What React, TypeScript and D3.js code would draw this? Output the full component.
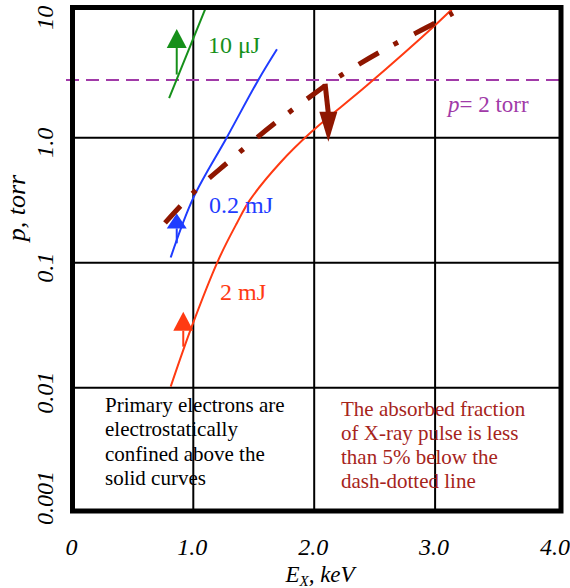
import React from "react";
import * as d3 from "d3";

// photon energy (keV) vs pressure (torr)
const E_TICKS = [0, 1, 2, 3, 4];
const E_TICK_LABELS = ["0", "1.0", "2.0", "3.0", "4.0"];
const P_TICKS = [0.001, 0.01, 0.1, 1, 10];
const P_TICK_LABELS = ["0.001", "0.01", "0.1", "1.0", "10"];
const E_GRID = [1, 2, 3];
const P_GRID = [0.01, 0.1, 1];

// solid confinement curves [E, p]
const curve10uJ = [[0.8, 2.07], [1.1, 10.8]];
const curve02mJ = [[0.813, 0.11], [1.0, 0.33], [1.276, 1.0], [1.538, 2.9], [1.692, 5.1]];
const curve2mJ = [[0.813, 0.0102], [0.987, 0.0308], [1.207, 0.105], [1.359, 0.206], [1.469, 0.318], [1.717, 0.628], [1.98, 1.12], [2.43, 2.59], [3.0, 7.95], [3.15, 10.9]];

// absorption 5% dash-dotted line, split at the kink
const absorbLow = [[0.766, 0.208], [1.006, 0.368], [1.279, 0.628], [1.676, 1.31], [2.09, 2.6]];
const absorbHigh = [[2.09, 2.6], [2.238, 3.23], [2.544, 4.85], [3.016, 8.43], [3.148, 9.95]];

// arrows [E, tail p, tip p]
const arrow10uJ = [0.863, 3.2, 7.4];
const arrow02mJ = [0.863, 0.143, 0.248];
const arrow2mJ = [0.917, 0.0213, 0.0405];
const arrowAbsorb = [2.09, 2.6, 2.117, 0.93];

const P_LEVEL = 2.9;

const noteBlack = ["Primary electrons are", "electrostatically", "confined above the", "solid curves"];
const noteRed = ["The absorbed fraction", "of X-ray pulse is less", "than 5% below the", "dash-dotted line"];

const GREEN = "#16901a";
const BLUE = "#1f3cff";
const RED = "#ff3a12";
const DARKRED = "#8e1600";
const PURPLE = "#a13aa8";
const NOTE_RED = "#a6241b";

const width = 570;
const height = 588;

const x = d3.scaleLinear().domain([0, 4]).range([72.4, 556]);
const y = d3.scaleLog().domain([0.001, 10]).range([512.7, 12.7]);

const frame = { x: 72.5, y: 7.5, w: 488.5, h: 503.5 };

const line = d3
  .line<number[]>()
  .x((d) => x(d[0]))
  .y((d) => y(d[1]))
  .curve(d3.curveCatmullRom.alpha(0.5));

function UpArrow({ a, color, head }: { a: number[]; color: string; head: number }) {
  const cx = x(a[0]);
  const tail = y(a[1]);
  const tip = y(a[2]);
  const base = tip + head;
  return (
    <g>
      <line x1={cx} x2={cx} y1={tail} y2={base} stroke={color} strokeWidth={2} />
      <polygon points={`${cx},${tip} ${cx - 10},${base} ${cx + 10},${base}`} fill={color} />
    </g>
  );
}

export default function App() {
  const [ax0, ap0, ax1, ap1] = arrowAbsorb;
  const kx = x(ax0);
  const ky = y(ap0);
  const tx = x(ax1);
  const ty = y(ap1);
  const headBase = ty - 30;

  return (
    <svg
      width={width}
      height={height}
      style={{ position: "absolute", left: 0, top: 0, background: "#fff" }}
    >
      <style>{`text { font-family: "Liberation Serif", "DejaVu Serif", serif; }`}</style>
      <defs>
        <clipPath id="plot">
          <rect x={frame.x} y={frame.y} width={frame.w} height={frame.h} />
        </clipPath>
      </defs>

      {/* grid */}
      {E_GRID.map((e) => (
        <line key={"ve" + e} x1={x(e)} x2={x(e)} y1={frame.y} y2={frame.y + frame.h} stroke="#000" strokeWidth={2} />
      ))}
      {P_GRID.map((p) => (
        <line key={"hp" + p} x1={frame.x} x2={frame.x + frame.w} y1={y(p)} y2={y(p)} stroke="#000" strokeWidth={2} />
      ))}

      {/* p = const line */}
      <line x1={66} x2={frame.x + frame.w} y1={y(P_LEVEL)} y2={y(P_LEVEL)} stroke={PURPLE} strokeWidth={2} strokeDasharray="13 7" />

      <g clipPath="url(#plot)" fill="none">
        <path d={line(curve10uJ as any) || ""} stroke={GREEN} strokeWidth={2} />
        <path d={line(curve02mJ as any) || ""} stroke={BLUE} strokeWidth={2} />
        <path d={line(curve2mJ as any) || ""} stroke={RED} strokeWidth={2} />
        <path d={line(absorbLow as any) || ""} stroke={DARKRED} strokeWidth={5} strokeDasharray="23 17 5 18" />
        <path d={line(absorbHigh as any) || ""} stroke={DARKRED} strokeWidth={5} strokeDasharray="23 17 5 18" strokeDashoffset={23} />
      </g>

      <UpArrow a={arrow10uJ} color={GREEN} head={19} />
      <UpArrow a={arrow02mJ} color={BLUE} head={15} />
      <UpArrow a={arrow2mJ} color={RED} head={19} />

      {/* down arrow at the kink */}
      <line x1={kx} y1={ky - 2} x2={tx} y2={headBase + 2} stroke={DARKRED} strokeWidth={5} />
      <polygon points={`${tx},${ty} ${tx - 9},${headBase} ${tx + 9},${headBase}`} fill={DARKRED} />

      {/* frame */}
      <rect x={frame.x} y={frame.y} width={frame.w} height={frame.h} fill="none" stroke="#000" strokeWidth={5} />

      {/* curve labels */}
      <text x={208} y={53} fontSize={24} fill={GREEN}>10 μJ</text>
      <text x={209} y={213} fontSize={24} fill={BLUE}>0.2 mJ</text>
      <text x={220} y={300} fontSize={24} fill={RED}>2 mJ</text>
      <text x={448} y={112} fontSize={23} fill={PURPLE}>
        <tspan fontStyle="italic">p</tspan>= 2 torr
      </text>

      {/* notes */}
      <text x={105} y={412} fontSize={21} fill="#000">
        {noteBlack.map((s, i) => (
          <tspan key={i} x={105} dy={i === 0 ? 0 : 24.3}>{s}</tspan>
        ))}
      </text>
      <text x={341} y={416} fontSize={21} fill={NOTE_RED}>
        {noteRed.map((s, i) => (
          <tspan key={i} x={341} dy={i === 0 ? 0 : 24}>{s}</tspan>
        ))}
      </text>

      {/* x axis */}
      {E_TICKS.map((e, i) => (
        <text key={"xt" + e} x={x(e) - 1} y={555} fontSize={24} fontStyle="italic" textAnchor="middle">
          {E_TICK_LABELS[i]}
        </text>
      ))}
      <text x={320} y={582} fontSize={23} fontStyle="italic" textAnchor="middle">
        E<tspan fontSize={15} dy={4}>X</tspan>
        <tspan dy={-4}>, keV</tspan>
      </text>

      {/* y axis */}
      {P_TICKS.map((p, i) => {
        const cy = Math.max(17, Math.min(498, y(p) + 5));
        return (
          <text
            key={"yt" + p}
            transform={`translate(53,${cy}) rotate(-90)`}
            fontSize={24}
            fontStyle="italic"
            textAnchor="middle"
          >
            {P_TICK_LABELS[i]}
          </text>
        );
      })}
      <text transform="translate(25,208) rotate(-90)" fontSize={26} fontStyle="italic" textAnchor="middle">
        p, torr
      </text>
    </svg>
  );
}
